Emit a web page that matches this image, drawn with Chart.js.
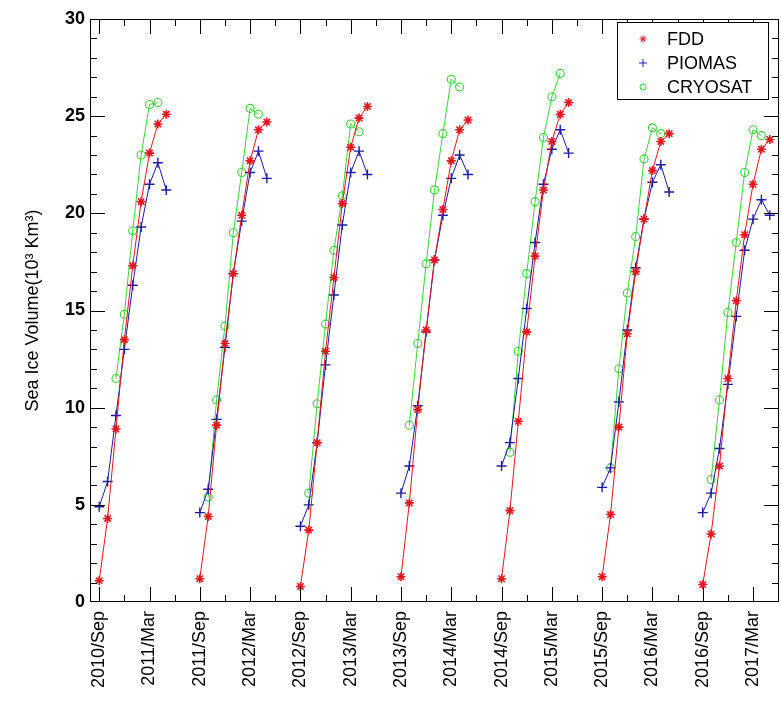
<!DOCTYPE html>
<html>
<head>
<meta charset="utf-8">
<script src="https://cdn.jsdelivr.net/npm/chart.js@4.4.1/dist/chart.umd.min.js"></script>
<style>
  html, body { margin: 0; padding: 0; background: #fff; }
  #wrap { width: 781px; height: 703px; }
</style>
</head>
<body>
<div id="wrap"><canvas id="ice-chart" width="781" height="703"></canvas></div>
<script>
// 每个冬季的起始月份（相对 2010/Sep 的月数）
const seasonStarts = [0, 12, 24, 36, 48, 60, 72];

// x 轴刻度标签（每 6 个月一个）
const xTickLabels = ['2010/Sep', '2011/Mar', '2011/Sep', '2012/Mar', '2012/Sep', '2013/Mar', '2013/Sep',
    '2014/Mar', '2014/Sep', '2015/Mar', '2015/Sep', '2016/Mar', '2016/Sep', '2017/Mar'];

// FDD：Sep..May
const fddValues = [
    [1.1, 4.3, 8.9, 13.5, 17.3, 20.6, 23.1, 24.6, 25.1],
    [1.2, 4.4, 9.1, 13.3, 16.9, 19.9, 22.7, 24.3, 24.7],
    [0.8, 3.7, 8.2, 12.9, 16.7, 20.5, 23.4, 24.9, 25.5],
    [1.3, 5.1, 9.9, 14.0, 17.6, 20.2, 22.7, 24.3, 24.8],
    [1.2, 4.7, 9.3, 13.9, 17.8, 21.2, 23.7, 25.1, 25.7],
    [1.3, 4.5, 9.0, 13.8, 17.0, 19.7, 22.2, 23.7, 24.1],
    [0.9, 3.5, 7.0, 11.5, 15.5, 18.9, 21.5, 23.3, 23.8]
];

// PIOMAS：Sep..May
const piomasValues = [
    [4.9, 6.2, 9.6, 13.0, 16.3, 19.3, 21.5, 22.6, 21.2],
    [4.6, 5.8, 9.4, 13.1, 16.9, 19.6, 22.1, 23.2, 21.8],
    [3.9, 5.0, 8.2, 12.2, 15.8, 19.4, 22.1, 23.2, 22.0],
    [5.6, 7.0, 10.1, 13.9, 17.6, 19.9, 21.8, 23.0, 22.0],
    [7.0, 8.2, 11.5, 15.1, 18.5, 21.5, 23.3, 24.3, 23.1],
    [5.9, 6.9, 10.3, 14.0, 17.2, 19.7, 21.6, 22.5, 21.1],
    [4.6, 5.6, 7.9, 11.2, 14.7, 18.1, 19.7, 20.7, 19.9]
];

// CRYOSAT：Oct..Apr（第一季从 Nov 开始）
const cryosatValues = [
    [null, 11.5, 14.8, 19.1, 23.0, 25.6, 25.7],
    [5.4, 10.4, 14.2, 19.0, 22.1, 25.4, 25.1],
    [5.6, 10.2, 14.3, 18.1, 20.9, 24.6, 24.2],
    [9.1, 13.3, 17.4, 21.2, 24.1, 26.9, 26.5],
    [7.7, 12.9, 16.9, 20.6, 23.9, 26.0, 27.2],
    [6.9, 12.0, 15.9, 18.8, 22.8, 24.4, 24.1],
    [6.3, 10.4, 14.9, 18.5, 22.1, 24.3, 24.0]
];

const FONT = '"Liberation Sans", Arial, Helvetica, sans-serif';

// 把每季数据展开成 {x, y}，季与季之间插入空点断开折线
function buildPoints(seasons, firstOffset) {
    const pts = [];
    seasons.forEach((vals, s) => {
        vals.forEach((v, i) => {
            if (v !== null) pts.push({ x: seasonStarts[s] + firstOffset + i, y: v });
        });
        pts.push({ x: seasonStarts[s] + 10, y: null });
    });
    return pts;
}

// 图框和朝内的刻度线
const frameTicks = {
    id: 'frameTicks',
    afterDatasetsDraw(chart) {
        const { ctx, chartArea: a, scales: { x, y } } = chart;
        ctx.save();
        ctx.strokeStyle = '#000';
        ctx.lineWidth = 1;
        ctx.strokeRect(a.left + 0.5, a.top + 0.5, a.right - a.left - 1, a.bottom - a.top - 1);
        ctx.beginPath();
        for (let m = 0; m <= x.max; m += 3) {
            const px = Math.round(x.getPixelForValue(m)) + 0.5;
            const len = m % 6 === 0 ? 15 : 7;
            ctx.moveTo(px, a.bottom);
            ctx.lineTo(px, a.bottom - len);
            ctx.moveTo(px, a.top);
            ctx.lineTo(px, a.top + len);
        }
        for (let v = 1; v < 30; v++) {
            const py = Math.round(y.getPixelForValue(v)) + 0.5;
            const len = v % 5 === 0 ? 15 : 7;
            ctx.moveTo(a.left, py);
            ctx.lineTo(a.left + len, py);
            ctx.moveTo(a.right, py);
            ctx.lineTo(a.right - len, py);
        }
        ctx.stroke();
        ctx.restore();
    }
};

// 图内右上角的图例框
const boxLegend = {
    id: 'boxLegend',
    afterDraw(chart) {
        const { ctx, chartArea: a } = chart;
        const left = a.right - 162, top = a.top + 3, w = 151, h = 77;
        ctx.save();
        ctx.fillStyle = '#fff';
        ctx.fillRect(left, top, w, h);
        ctx.strokeStyle = '#000';
        ctx.lineWidth = 1;
        ctx.strokeRect(left + 0.5, top + 0.5, w, h);
        chart.data.datasets.forEach((ds, i) => {
            const cy = top + 17 + i * 24;
            ctx.strokeStyle = ds.borderColor;
            ctx.fillStyle = 'rgba(0,0,0,0)';
            Chart.helpers.drawPoint(ctx, {
                pointStyle: ds.pointStyle, rotation: 0,
                radius: ds.pointRadius - 1, borderWidth: 1
            }, left + 26, cy);
            ctx.fillStyle = '#000';
            ctx.font = '18px ' + FONT;
            ctx.textBaseline = 'middle';
            ctx.textAlign = 'left';
            ctx.fillText(ds.label, left + 50, cy + 1);
        });
        ctx.restore();
    }
};

new Chart(document.getElementById('ice-chart').getContext('2d'), {
    type: 'line',
    data: {
        datasets: [{
            label: 'FDD',
            data: buildPoints(fddValues, 0),
            borderColor: '#e0161e',
            borderWidth: 1,
            pointStyle: 'star',
            pointRadius: 4.5,
            pointBorderWidth: 1.6,
            pointBackgroundColor: 'rgba(0,0,0,0)',
            spanGaps: false
        }, {
            label: 'PIOMAS',
            data: buildPoints(piomasValues, 0),
            borderColor: '#1c1c9c',
            borderWidth: 1,
            pointStyle: 'cross',
            pointRadius: 5,
            pointBorderWidth: 1.4,
            pointBackgroundColor: 'rgba(0,0,0,0)',
            spanGaps: false
        }, {
            label: 'CRYOSAT',
            data: buildPoints(cryosatValues, 1),
            borderColor: '#3ecf3e',
            borderWidth: 1,
            pointStyle: 'circle',
            pointRadius: 4,
            pointBorderWidth: 1.1,
            pointBackgroundColor: 'rgba(0,0,0,0)',
            spanGaps: false
        }]
    },
    options: {
        responsive: false,
        animation: false,
        devicePixelRatio: 1,
        // 关闭自动留白，否则右侧会多出几像素
        layout: { autoPadding: false, padding: { top: 19, right: 2, left: 0, bottom: 0 } },
        plugins: {
            legend: { display: false },
            tooltip: { enabled: false }
        },
        scales: {
            x: {
                type: 'linear',
                min: -1.1,
                max: 81.1,
                grid: { display: false, drawTicks: false },
                border: { display: false },
                afterBuildTicks: s => { s.ticks = xTickLabels.map((_, i) => ({ value: i * 6 })); },
                afterFit: s => {
                    s.height = 101;
                    s.paddingLeft = 0;
                    s.paddingRight = 0;
                },
                ticks: {
                    autoSkip: false,
                    minRotation: 90,
                    maxRotation: 90,
                    padding: 9,
                    color: '#000',
                    font: { family: FONT, size: 18 },
                    callback: (v, i) => xTickLabels[i]
                }
            },
            y: {
                min: 0,
                max: 30,
                grid: { display: false, drawTicks: false },
                border: { display: false },
                afterFit: s => { s.width = 90; },
                ticks: {
                    stepSize: 5,
                    padding: 5,
                    color: '#000',
                    font: { family: FONT, size: 18, weight: 'bold' }
                },
                title: {
                    display: true,
                    text: 'Sea Ice Volume(10³ Km³)',
                    color: '#000',
                    font: { family: FONT, size: 18 },
                    padding: { top: 22, bottom: 0 }
                }
            }
        }
    },
    plugins: [frameTicks, boxLegend]
});
</script>
</body>
</html>
